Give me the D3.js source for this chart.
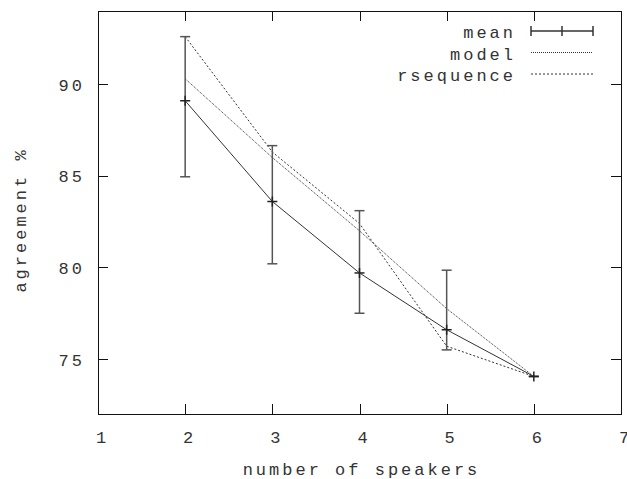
<!DOCTYPE html>
<html>
<head>
<meta charset="utf-8">
<script src="https://cdn.jsdelivr.net/npm/d3@7"></script>
<style>
  body { margin: 0; background: #fff; }
  text { font-family: "Liberation Mono", "DejaVu Sans Mono", monospace; font-size: 17px; fill: #333; letter-spacing: 3px; }
</style>
</head>
<body>
<div id="chart"></div>
<script>
let svgWidth = 627;
let svgHeight = 479;

let margin = { top: 11, right: 6, bottom: 65, left: 98 };

let width = svgWidth - margin.left - margin.right;
let height = svgHeight - margin.top - margin.bottom;

// data
let speakers = [2, 3, 4, 5, 6];
let meanVals = [89.1, 83.6, 79.7, 76.6, 74.05];
let errLow = [84.95, 80.2, 77.5, 75.5, 74.05];
let errHigh = [92.6, 86.65, 83.1, 79.85, 74.05];
let modelVals = [90.3, 86.0, 82.0, 77.75, 74.05];
let rseqVals = [92.6, 86.3, 82.4, 75.7, 74.05];

let xTicks = [1, 2, 3, 4, 5, 6, 7];
let yTicks = [75, 80, 85, 90];

let svg = d3.select("#chart")
  .append("svg")
  .attr("width", svgWidth)
  .attr("height", svgHeight);

let chartGroup = svg.append("g")
  .attr("transform", `translate(${margin.left}, ${margin.top})`);

let x = d3.scaleLinear().domain([1, 7]).range([0, width]);
let y = d3.scaleLinear().domain([72, 94]).range([height, 0]);

// axes with inward ticks
let bottomAxis = d3.axisBottom(x).tickValues(xTicks).tickSize(-10).tickFormat(d3.format("d"));
let leftAxis = d3.axisLeft(y).tickValues(yTicks).tickSize(-10).tickFormat(d3.format("d"));
let topAxis = d3.axisTop(x).tickValues(xTicks).tickSize(-10).tickFormat("");
let rightAxis = d3.axisRight(y).tickValues(yTicks).tickSize(-10).tickFormat("");

let gx = chartGroup.append("g")
  .attr("transform", `translate(0, ${height})`)
  .call(bottomAxis);
gx.selectAll("text").attr("y", 29).attr("dy", 0).attr("dx", 4);

let gy = chartGroup.append("g").call(leftAxis);
gy.selectAll("text").attr("x", -13).attr("dy", 6);

chartGroup.append("g").call(topAxis);
chartGroup.append("g").attr("transform", `translate(${width}, 0)`).call(rightAxis);

chartGroup.selectAll(".domain").remove();
chartGroup.selectAll(".tick line").attr("stroke", "#111").attr("shape-rendering", "crispEdges");
chartGroup.selectAll(".tick text").attr("fill", "#333").style("font-size", "17px");

chartGroup.append("rect")
  .attr("width", width)
  .attr("height", height)
  .attr("fill", "none")
  .attr("stroke", "#111")
  .attr("shape-rendering", "crispEdges");

// series lines
let lineOf = vals => d3.line()
  .x((d, i) => x(speakers[i]))
  .y(d => y(d))(vals);

chartGroup.append("path")
  .attr("d", lineOf(rseqVals))
  .attr("fill", "none")
  .attr("stroke", "#333")
  .attr("stroke-width", 1)
  .attr("stroke-dasharray", "2,2");

chartGroup.append("path")
  .attr("d", lineOf(modelVals))
  .attr("fill", "none")
  .attr("stroke", "#333")
  .attr("stroke-width", 1)
  .attr("stroke-dasharray", "1,1");

chartGroup.append("path")
  .attr("d", lineOf(meanVals))
  .attr("fill", "none")
  .attr("stroke", "#333")
  .attr("stroke-width", 1);

// error bars
let bars = chartGroup.append("g").selectAll("g")
  .data(speakers)
  .enter()
  .append("g")
  .attr("stroke", "#555")
  .attr("stroke-width", 1.5);

bars.append("line")
  .attr("x1", d => x(d)).attr("x2", d => x(d))
  .attr("y1", (d, i) => y(errLow[i])).attr("y2", (d, i) => y(errHigh[i]));
bars.append("line")
  .attr("x1", d => x(d) - 5).attr("x2", d => x(d) + 5)
  .attr("y1", (d, i) => y(errLow[i])).attr("y2", (d, i) => y(errLow[i]));
bars.append("line")
  .attr("x1", d => x(d) - 5).attr("x2", d => x(d) + 5)
  .attr("y1", (d, i) => y(errHigh[i])).attr("y2", (d, i) => y(errHigh[i]));
// "+" point at mean
bars.append("line")
  .attr("x1", d => x(d) - 5).attr("x2", d => x(d) + 5)
  .attr("y1", (d, i) => y(meanVals[i])).attr("y2", (d, i) => y(meanVals[i]))
  .attr("stroke", "#222");
bars.append("line")
  .attr("x1", d => x(d)).attr("x2", d => x(d))
  .attr("y1", (d, i) => y(meanVals[i]) - 5).attr("y2", (d, i) => y(meanVals[i]) + 5)
  .attr("stroke", "#222");

// legend
let legendNames = ["mean", "model", "rsequence"];
let legend = svg.append("g");
legendNames.forEach(function(name, i) {
  let by = 38 + i * 21.5;
  legend.append("text")
    .attr("x", 516)
    .attr("y", by)
    .attr("text-anchor", "end")
    .text(name);
  let ly = by - 7;
  let ln = legend.append("line")
    .attr("x1", 531).attr("x2", 593)
    .attr("y1", ly).attr("y2", ly)
    .attr("stroke", "#333");
  if (name === "model") ln.attr("stroke-dasharray", "1,1");
  if (name === "rsequence") ln.attr("stroke-dasharray", "2,2");
  if (name === "mean") {
    ln.attr("stroke-width", 1.5);
    [531, 562, 593].forEach(function(px) {
      legend.append("line")
        .attr("x1", px).attr("x2", px)
        .attr("y1", ly - 5).attr("y2", ly + 5)
        .attr("stroke", "#333").attr("stroke-width", 1.5);
    });
  }
});

// axis titles
svg.append("text")
  .attr("x", margin.left + width / 2 + 2)
  .attr("y", 475)
  .attr("text-anchor", "middle")
  .text("number of speakers");

svg.append("text")
  .attr("transform", "rotate(-90)")
  .attr("x", -220)
  .attr("y", 26)
  .attr("text-anchor", "middle")
  .text("agreement %");
</script>
</body>
</html>
